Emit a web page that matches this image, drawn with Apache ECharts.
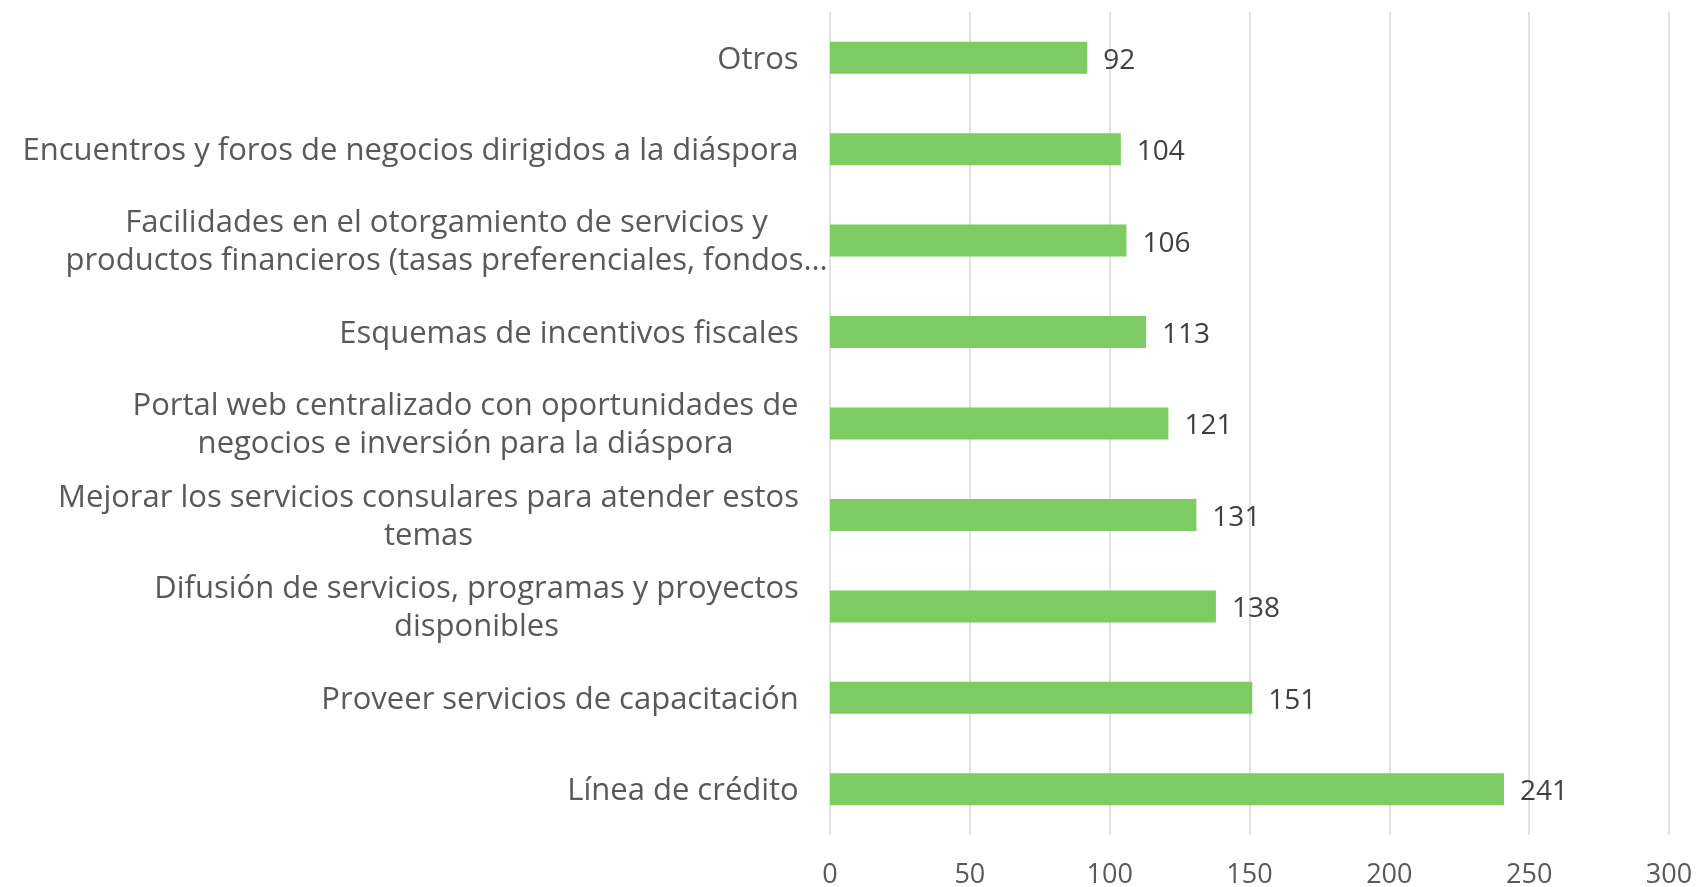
<!DOCTYPE html>
<html><head><meta charset="utf-8">
<script src="https://cdn.jsdelivr.net/npm/echarts@6/dist/echarts.min.js"></script>
<style>html,body{margin:0;padding:0;background:#fff}#c{width:1701px;height:887px}</style>
</head><body><div id="c"></div>
<script>
const categories = [
  "Otros",
  "Encuentros y foros de negocios dirigidos a la diáspora",
  "Facilidades en el otorgamiento de servicios y\nproductos financieros (tasas preferenciales, fondos…",
  "Esquemas de incentivos fiscales",
  "Portal web centralizado con oportunidades de\nnegocios e inversión para la diáspora",
  "Mejorar los servicios consulares para atender estos\ntemas",
  "Difusión de servicios, programas y proyectos\ndisponibles",
  "Proveer servicios de capacitación",
  "Línea de crédito"
];
const values = [92, 104, 106, 113, 121, 131, 138, 151, 241];
const xTicks = [0, 50, 100, 150, 200, 250, 300];

const FONT = "Open Sans";
const FS = 27;
const CFS = 31;
const cv = document.createElement('canvas').getContext('2d');
cv.font = CFS + "px '" + FONT + "'";
const rich = {};
categories.forEach((c, i) => {
  let w = Math.max(...c.split('\n').map(l => cv.measureText(l).width));
  if (c.endsWith('…')) w -= 58; // truncated label spills past the label area, as in the original
  rich['r' + i] = { width: Math.ceil(w) + 2, align: 'center', fontSize: CFS, fontFamily: FONT, color: '#595959', lineHeight: 38 };
});

const chart = echarts.init(document.getElementById('c'));
chart.setOption({
  animation: false,
  grid: { left: 830, right: 32, top: 12, bottom: 52, containLabel: false, outerBoundsMode: 'none' },
  xAxis: {
    type: 'value', min: 0, max: 300, interval: 50,
    axisLine: { show: false }, axisTick: { show: false },
    splitLine: { show: true, lineStyle: { color: '#d9d9d9', width: 1.5 } },
    axisLabel: { fontSize: FS, fontFamily: FONT, color: '#595959', margin: 27,
      formatter: v => xTicks.includes(v) ? String(v) : '' }
  },
  yAxis: {
    type: 'category', data: categories, inverse: true,
    axisLine: { show: false }, axisTick: { show: false },
    axisLabel: {
      margin: 30, align: 'right', padding: [4, 0, 0, 0],
      formatter: (val, idx) => val.split('\n').map(l => '{r' + idx + '|' + l + '}').join('\n'),
      rich: rich
    }
  },
  series: [{
    type: 'bar', data: values, barWidth: 32,
    itemStyle: { color: '#7ccc63' },
    label: { show: true, position: 'right', distance: 16, fontSize: 28, fontFamily: FONT, color: '#404040', offset: [0, 3] }
  }]
});
</script></body></html>
